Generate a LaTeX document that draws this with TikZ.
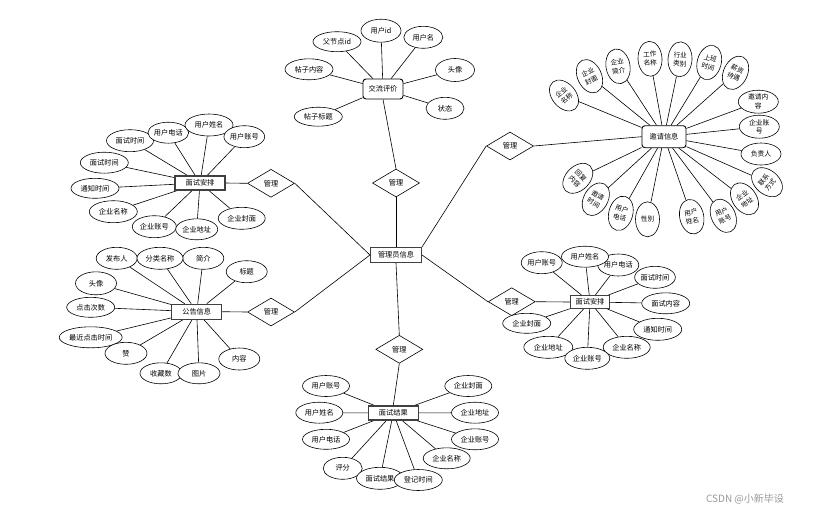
\documentclass[tikz,border=0pt]{standalone}
\usepackage{fontspec}
\newfontfamily\cjk{Noto Sans CJK SC}
\usetikzlibrary{shapes.geometric,backgrounds}
\begin{document}
\begin{tikzpicture}[x=1pt,y=-1pt,
  every node/.style={font=\cjk\fontsize{7.2}{8.2}\selectfont, inner sep=0pt},
  attr/.style={ellipse, draw, fill=white, line width=0.6pt, minimum width=#1, minimum height=21},
  attr/.default=47,
  vattr/.style={ellipse, draw, fill=white, line width=0.6pt, minimum width=24, minimum height=35, align=center, font=\cjk\fontsize{6.6}{8.6}\selectfont},
  hattr/.style={ellipse, draw, fill=white, line width=0.6pt, minimum width=40, minimum height=23, align=center, font=\cjk\fontsize{6.8}{8.6}\selectfont},
  ent/.style={rectangle, draw=black!75, fill=white, line width=1.1pt, minimum width=50, minimum height=14},
  rent/.style={rectangle, rounded corners=3pt, draw, fill=white, line width=0.9pt, minimum width=40, minimum height=20},
  rel/.style={diamond, draw, fill=white, line width=0.6pt, minimum width=47, minimum height=28},
  conn/.style={draw, line width=0.6pt}
]
\useasboundingbox (0,0) rectangle (816,515);

% ---------- central ----------
\node[ent, minimum width=51, minimum height=15] (mgr) at (396,255) {管理员信息};
\node[rel] (dT) at (396,183) {管理};
\node[rel] (dL1) at (271,183.3) {管理};
\node[rel] (dL2) at (271,312) {管理};
\node[rel] (dR1) at (510,146) {管理};
\node[rel] (dR2) at (511.7,301.7) {管理};
\node[rel] (dB) at (399.3,349.3) {管理};

% ---------- entities ----------
\node[rent] (jl) at (383,89) {交流评价};
\node[rent, minimum width=44, minimum height=22] (yq) at (664,136.7) {邀请信息};
\node[ent] (msL) at (200,183) {面试安排};
\node[ent, minimum height=15] (gg) at (196.7,311.7) {公告信息};
\node[ent, minimum width=39, minimum height=13] (msR) at (590,302) {面试安排};
\node[ent] (jg) at (393.3,413) {面试结果};

% ---------- 交流评价 attributes ----------
\node[attr=48, minimum height=20] (j1) at (337,41.7) {父节点id};
\node[attr=40, minimum height=23] (j2) at (381,30.7) {用户id};
\node[attr=39, minimum height=22] (j3) at (423.3,37.3) {用户名};
\node[attr=48] (j4) at (309,69.3) {帖子内容};
\node[attr=39, minimum height=23] (j5) at (455,70) {头像};
\node[attr=38, minimum height=22] (j6) at (445,108.3) {状态};
\node[attr=48, minimum height=19] (j7) at (318.3,116.7) {帖子标题};

% ---------- 邀请信息 attributes ----------
\node[vattr, rotate=40] (a1) at (564,95.5) {企业\\名称};
\node[vattr, rotate=25] (a2) at (589.5,76.2) {企业\\封面};
\node[vattr, rotate=10] (a3) at (618,66.3) {企业\\简介};
\node[vattr, rotate=3] (a4) at (650,58.8) {工作\\名称};
\node[vattr, rotate=-3] (a5) at (680,59.3) {行业\\类别};
\node[vattr, rotate=-15] (a6) at (709.2,62.5) {上班\\时间};
\node[vattr, rotate=-25] (a7) at (735.5,72.8) {薪资\\待遇};
\node[hattr] (a8) at (758.3,101.7) {邀请内\\容};
\node[hattr] (a9) at (759.3,126.7) {企业账\\号};
\node[hattr, minimum height=22] (a10) at (761,154) {负责人};
\node[vattr, rotate=50] (a11) at (767,182.2) {联系\\方式};
\node[vattr, rotate=35] (a12) at (744.5,198.8) {企业\\地址};
\node[vattr, rotate=25] (a13) at (723.3,215.8) {用户\\账号};
\node[vattr, rotate=12] (a14) at (691.7,216.7) {用户\\姓名};
\node[vattr] (a15) at (647.5,219.3) {性别};
\node[vattr, rotate=-15] (a16) at (620.8,213.3) {用户\\电话};
\node[vattr, rotate=-30] (a17) at (595.8,199.2) {邀请\\时间};
\node[vattr, rotate=-45] (a18) at (577.8,178.3) {回复\\内容};

% ---------- 面试安排 (left) attributes ----------
\node[attr=47, minimum height=22] (lm1) at (130,140.7) {面试时间};
\node[attr=40] (lm2) at (168.3,132.7) {用户电话};
\node[attr=48, minimum height=22] (lm3) at (209,125) {用户姓名};
\node[attr=40, minimum height=22] (lm4) at (244.3,136.7) {用户账号};
\node[attr=48] (lm5) at (104.3,162.7) {面试时间};
\node[attr=48, minimum height=20] (lm6) at (95,188.3) {通知时间};
\node[attr=48, minimum height=22] (lm7) at (113.3,211.7) {企业名称};
\node[attr=44, minimum height=22] (lm8) at (154.3,226.7) {企业账号};
\node[attr=47, minimum height=22] (lm10) at (241.7,218.3) {企业封面};
\node[attr=42] (lm9) at (196.7,229.3) {企业地址};

% ---------- 公告信息 attributes ----------
\node[attr=41, minimum height=22] (g1) at (116.7,258.3) {发布人};
\node[attr=41, minimum height=22] (g3) at (203.3,258.3) {简介};
\node[attr=46, minimum height=22] (g2) at (160,258.3) {分类名称};
\node[attr=41, minimum height=22] (g4) at (246.7,271.7) {标题};
\node[attr=41, minimum height=23] (g5) at (96,283.3) {头像};
\node[attr=48, minimum height=20] (g6) at (90.7,307.3) {点击次数};
\node[attr=63] (g7) at (90.7,337.3) {最近点击时间};
\node[attr=42, minimum height=22] (g8) at (126,353.3) {赞};
\node[attr=42] (g9) at (161,373.3) {收藏数};
\node[attr=42] (g10) at (199,373.3) {图片};
\node[attr=41, minimum height=22] (g11) at (239.3,359) {内容};

% ---------- 面试安排 (right) attributes ----------
\node[attr=41, minimum height=22] (rm1) at (541.7,262.7) {用户账号};
\node[attr=41, minimum height=22] (rm3) at (618.3,265) {用户电话};
\node[attr=47] (rm2) at (585,256.7) {用户姓名};
\node[attr=40, minimum height=22] (rm4) at (655,277.3) {面试时间};
\node[attr=48] (rm5) at (665.7,303.3) {面试内容};
\node[attr=48, minimum height=22] (rm6) at (657.7,329.3) {通知时间};
\node[attr=47, minimum height=22] (rm7) at (626.7,347.3) {企业名称};
\node[attr=48, minimum height=20] (rm10) at (526.7,323.3) {企业封面};
\node[attr=49, minimum height=22] (rm9) at (548.3,347.3) {企业地址};
\node[attr=45, minimum height=22] (rm8) at (587.3,358.3) {企业账号};

% ---------- 面试结果 attributes ----------
\node[attr] (r1) at (326,386) {用户账号};
\node[attr] (r2) at (319.3,412.7) {用户姓名};
\node[attr, minimum height=20] (r3) at (326,439.3) {用户电话};
\node[attr] (r4) at (468.3,386) {企业封面};
\node[attr] (r5) at (475,412.7) {企业地址};
\node[attr] (r6) at (475,439.3) {企业账号};
\node[attr] (r7) at (446.7,458.3) {企业名称};
\node[attr=39, minimum height=22] (r8) at (342.7,468.3) {评分};
\node[attr, minimum height=22] (r9) at (380,478.3) {面试结果};
\node[attr=48] (r10) at (418.3,480) {登记时间};

% ---------- watermark ----------
\node[font=\cjk\fontsize{10}{12}\selectfont, text=black!40] (wm) at (745,499) {CSDN @小新毕设};

% ---------- connectors ----------
\begin{pgfonlayer}{background}
\fill[white] (0,0) rectangle (816,515);
\draw[conn] (mgr.north) -- (dT.south);
\draw[conn] (dT.north) -- (jl.south);
\draw[conn] (mgr.west) -- (dL1.east);
\draw[conn] (dL1.west) -- (msL.east);
\draw[conn] (mgr.west) -- (dL2.east);
\draw[conn] (dL2.west) -- (gg.east);
\draw[conn] (mgr.north east) -- (dR1.west);
\draw[conn] (dR1.east) -- (yq.west);
\draw[conn] (mgr.east) -- (dR2.west);
\draw[conn] (dR2.east) -- (msR.west);
\draw[conn] (mgr.south) -- (dB.north);
\draw[conn] (dB.south) -- (jg.north);
\foreach \n in {j1,j2,j3,j4,j5,j6,j7} \draw[conn] (jl) -- (\n);
\foreach \n in {a1,a2,a3,a4,a5,a6,a7,a8,a9,a10,a11,a12,a13,a14,a15,a16,a17,a18} \draw[conn] (yq) -- (\n);
\foreach \n in {lm1,lm2,lm3,lm4,lm5,lm6,lm7,lm8,lm9,lm10} \draw[conn] (msL) -- (\n);
\foreach \n in {g1,g2,g3,g4,g5,g6,g7,g8,g9,g10,g11} \draw[conn] (gg) -- (\n);
\foreach \n in {rm1,rm2,rm3,rm4,rm5,rm6,rm7,rm8,rm9,rm10} \draw[conn] (msR) -- (\n);
\foreach \n in {r1,r2,r3,r4,r5,r6,r7,r8,r9,r10} \draw[conn] (jg) -- (\n);
\end{pgfonlayer}
\end{tikzpicture}
\end{document}
